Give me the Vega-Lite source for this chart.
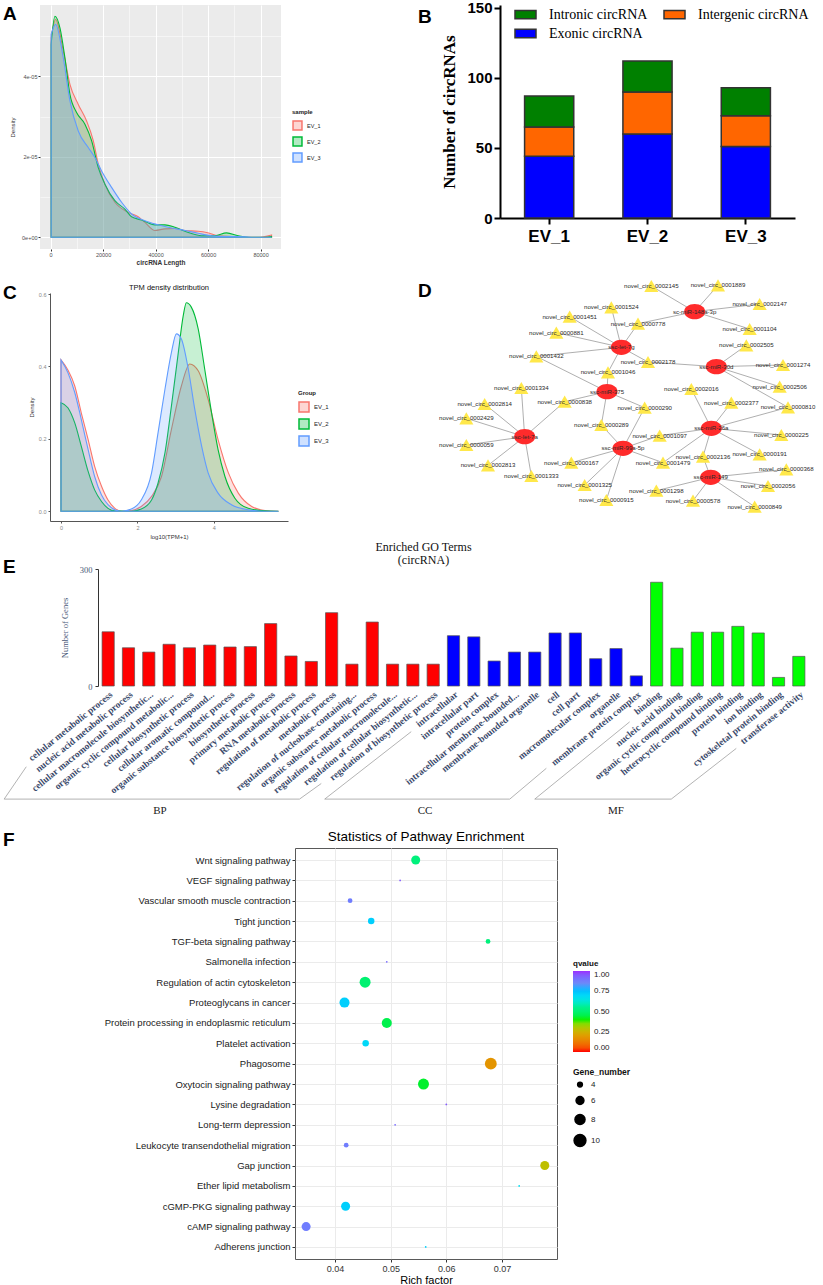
{
"$schema": "https://vega.github.io/schema/vega-lite/v6.json",
"background": "white",
"padding": {"left": 2, "top": 0, "right": 0, "bottom": 0},
"spacing": 13,
"resolve": {"scale": {"color": "independent", "fill": "independent", "stroke": "independent", "size": "independent"}, "legend": {"color": "independent", "fill": "independent", "stroke": "independent", "size": "independent"}},
"config": {
  "view": {"stroke": null},
  "font": "Liberation Sans",
  "axis": {"labelFont": "Liberation Sans", "titleFont": "Liberation Sans"},
  "legend": {"labelFont": "Liberation Sans", "titleFont": "Liberation Sans", "padding": 0},
  "title": {"font": "Liberation Sans", "color": "black"}
},
"datasets": {
  "densA": [
    {"sample":"EV_1","length":200,"density":4.95e-5},{"sample":"EV_1","length":1900,"density":5.41e-5},{"sample":"EV_1","length":4830,"density":4.63e-5},{"sample":"EV_1","length":7370,"density":3.80e-5},{"sample":"EV_1","length":10540,"density":3.30e-5},{"sample":"EV_1","length":13720,"density":2.89e-5},{"sample":"EV_1","length":16260,"density":2.40e-5},{"sample":"EV_1","length":18160,"density":1.82e-5},{"sample":"EV_1","length":20700,"density":1.32e-5},{"sample":"EV_1","length":24500,"density":0.87e-5},{"sample":"EV_1","length":29600,"density":0.62e-5},{"sample":"EV_1","length":33400,"density":0.51e-5},{"sample":"EV_1","length":35940,"density":0.37e-5},{"sample":"EV_1","length":39750,"density":0.17e-5},{"sample":"EV_1","length":43560,"density":0.21e-5},{"sample":"EV_1","length":47370,"density":0.22e-5},{"sample":"EV_1","length":51200,"density":0.17e-5},{"sample":"EV_1","length":56260,"density":0.15e-5},{"sample":"EV_1","length":59440,"density":0.12e-5},{"sample":"EV_1","length":63900,"density":0.04e-5},{"sample":"EV_1","length":69000,"density":0.02e-5},{"sample":"EV_1","length":74000,"density":0},{"sample":"EV_1","length":79000,"density":0},{"sample":"EV_1","length":84200,"density":0.06e-5},
    {"sample":"EV_2","length":200,"density":4.79e-5},{"sample":"EV_2","length":1650,"density":5.49e-5},{"sample":"EV_2","length":3560,"density":5.2e-5},{"sample":"EV_2","length":5460,"density":4.46e-5},{"sample":"EV_2","length":7370,"density":3.55e-5},{"sample":"EV_2","length":9900,"density":3.1e-5},{"sample":"EV_2","length":13080,"density":2.81e-5},{"sample":"EV_2","length":15620,"density":2.4e-5},{"sample":"EV_2","length":18160,"density":1.73e-5},{"sample":"EV_2","length":20700,"density":1.32e-5},{"sample":"EV_2","length":24500,"density":0.91e-5},{"sample":"EV_2","length":28300,"density":0.70e-5},{"sample":"EV_2","length":30860,"density":0.51e-5},{"sample":"EV_2","length":34670,"density":0.43e-5},{"sample":"EV_2","length":39750,"density":0.31e-5},{"sample":"EV_2","length":43560,"density":0.31e-5},{"sample":"EV_2","length":47370,"density":0.25e-5},{"sample":"EV_2","length":52450,"density":0.12e-5},{"sample":"EV_2","length":57530,"density":0.04e-5},{"sample":"EV_2","length":62610,"density":0.04e-5},{"sample":"EV_2","length":67060,"density":0.11e-5},{"sample":"EV_2","length":71500,"density":0.04e-5},{"sample":"EV_2","length":76580,"density":0},{"sample":"EV_2","length":81660,"density":0},{"sample":"EV_2","length":84200,"density":0.02e-5},
    {"sample":"EV_3","length":200,"density":5.04e-5},{"sample":"EV_3","length":1900,"density":5.29e-5},{"sample":"EV_3","length":4830,"density":4.46e-5},{"sample":"EV_3","length":7370,"density":3.39e-5},{"sample":"EV_3","length":10540,"density":2.64e-5},{"sample":"EV_3","length":14350,"density":2.23e-5},{"sample":"EV_3","length":16900,"density":1.98e-5},{"sample":"EV_3","length":19430,"density":1.65e-5},{"sample":"EV_3","length":23240,"density":1.24e-5},{"sample":"EV_3","length":27050,"density":0.87e-5},{"sample":"EV_3","length":30860,"density":0.58e-5},{"sample":"EV_3","length":35940,"density":0.41e-5},{"sample":"EV_3","length":41020,"density":0.31e-5},{"sample":"EV_3","length":46100,"density":0.23e-5},{"sample":"EV_3","length":51200,"density":0.17e-5},{"sample":"EV_3","length":56260,"density":0.10e-5},{"sample":"EV_3","length":61340,"density":0.04e-5},{"sample":"EV_3","length":66420,"density":0.02e-5},{"sample":"EV_3","length":71500,"density":0.02e-5},{"sample":"EV_3","length":76580,"density":0},{"sample":"EV_3","length":81660,"density":0},{"sample":"EV_3","length":84200,"density":0}
  ],
  "circ": [
    {"sample":"EV_1","type":"Exonic circRNA","count":44,"order":1},
    {"sample":"EV_1","type":"Intergenic circRNA","count":21,"order":2},
    {"sample":"EV_1","type":"Intronic circRNA","count":22,"order":3},
    {"sample":"EV_2","type":"Exonic circRNA","count":60,"order":1},
    {"sample":"EV_2","type":"Intergenic circRNA","count":30,"order":2},
    {"sample":"EV_2","type":"Intronic circRNA","count":22,"order":3},
    {"sample":"EV_3","type":"Exonic circRNA","count":51,"order":1},
    {"sample":"EV_3","type":"Intergenic circRNA","count":22,"order":2},
    {"sample":"EV_3","type":"Intronic circRNA","count":20,"order":3}
  ],
  "densC": [
    {"group":"EV_1","tpm":0,"density":0.418},{"group":"EV_1","tpm":0.18,"density":0.39},{"group":"EV_1","tpm":0.36,"density":0.346},{"group":"EV_1","tpm":0.53,"density":0.272},{"group":"EV_1","tpm":0.71,"density":0.198},{"group":"EV_1","tpm":0.88,"density":0.124},{"group":"EV_1","tpm":1.06,"density":0.069},{"group":"EV_1","tpm":1.23,"density":0.031},{"group":"EV_1","tpm":1.41,"density":0.008},{"group":"EV_1","tpm":1.58,"density":0},{"group":"EV_1","tpm":1.84,"density":0.002},{"group":"EV_1","tpm":2.1,"density":0.013},{"group":"EV_1","tpm":2.37,"density":0.041},{"group":"EV_1","tpm":2.63,"density":0.096},{"group":"EV_1","tpm":2.89,"density":0.226},{"group":"EV_1","tpm":3.15,"density":0.346},{"group":"EV_1","tpm":3.37,"density":0.407},{"group":"EV_1","tpm":3.59,"density":0.388},{"group":"EV_1","tpm":3.85,"density":0.309},{"group":"EV_1","tpm":4.11,"density":0.198},{"group":"EV_1","tpm":4.38,"density":0.106},{"group":"EV_1","tpm":4.64,"density":0.05},{"group":"EV_1","tpm":4.99,"density":0.013},{"group":"EV_1","tpm":5.34,"density":0.002},{"group":"EV_1","tpm":5.69,"density":0},
    {"group":"EV_2","tpm":0,"density":0.30},{"group":"EV_2","tpm":0.18,"density":0.286},{"group":"EV_2","tpm":0.36,"density":0.244},{"group":"EV_2","tpm":0.53,"density":0.18},{"group":"EV_2","tpm":0.71,"density":0.11},{"group":"EV_2","tpm":0.88,"density":0.059},{"group":"EV_2","tpm":1.06,"density":0.027},{"group":"EV_2","tpm":1.23,"density":0.008},{"group":"EV_2","tpm":1.41,"density":0.001},{"group":"EV_2","tpm":1.84,"density":0},{"group":"EV_2","tpm":2.1,"density":0.006},{"group":"EV_2","tpm":2.37,"density":0.031},{"group":"EV_2","tpm":2.54,"density":0.078},{"group":"EV_2","tpm":2.72,"density":0.161},{"group":"EV_2","tpm":2.89,"density":0.291},{"group":"EV_2","tpm":3.07,"density":0.439},{"group":"EV_2","tpm":3.2,"density":0.541},{"group":"EV_2","tpm":3.28,"density":0.576},{"group":"EV_2","tpm":3.41,"density":0.564},{"group":"EV_2","tpm":3.59,"density":0.504},{"group":"EV_2","tpm":3.76,"density":0.393},{"group":"EV_2","tpm":3.94,"density":0.272},{"group":"EV_2","tpm":4.11,"density":0.17},{"group":"EV_2","tpm":4.29,"density":0.096},{"group":"EV_2","tpm":4.55,"density":0.036},{"group":"EV_2","tpm":4.9,"density":0.008},{"group":"EV_2","tpm":5.34,"density":0.001},{"group":"EV_2","tpm":5.69,"density":0},
    {"group":"EV_3","tpm":0,"density":0.418},{"group":"EV_3","tpm":0.18,"density":0.383},{"group":"EV_3","tpm":0.36,"density":0.328},{"group":"EV_3","tpm":0.53,"density":0.254},{"group":"EV_3","tpm":0.71,"density":0.17},{"group":"EV_3","tpm":0.88,"density":0.096},{"group":"EV_3","tpm":1.06,"density":0.045},{"group":"EV_3","tpm":1.23,"density":0.018},{"group":"EV_3","tpm":1.41,"density":0.004},{"group":"EV_3","tpm":1.58,"density":0},{"group":"EV_3","tpm":1.84,"density":0.006},{"group":"EV_3","tpm":2.1,"density":0.031},{"group":"EV_3","tpm":2.37,"density":0.106},{"group":"EV_3","tpm":2.54,"density":0.217},{"group":"EV_3","tpm":2.72,"density":0.337},{"group":"EV_3","tpm":2.89,"density":0.439},{"group":"EV_3","tpm":3.02,"density":0.49},{"group":"EV_3","tpm":3.15,"density":0.476},{"group":"EV_3","tpm":3.33,"density":0.393},{"group":"EV_3","tpm":3.5,"density":0.282},{"group":"EV_3","tpm":3.68,"density":0.18},{"group":"EV_3","tpm":3.85,"density":0.106},{"group":"EV_3","tpm":4.11,"density":0.05},{"group":"EV_3","tpm":4.46,"density":0.018},{"group":"EV_3","tpm":4.9,"density":0.004},{"group":"EV_3","tpm":5.34,"density":0},{"group":"EV_3","tpm":5.69,"density":0}
  ],
  "nodes": [
    {"id":"sc-miR-148a-3p","kind":"miRNA","nx":86,"ny":12.5},
    {"id":"ssc-let-7g","kind":"miRNA","nx":64,"ny":23.2},
    {"id":"ssc-miR-30d","kind":"miRNA","nx":92.5,"ny":29},
    {"id":"ssc-miR-375","kind":"miRNA","nx":59.7,"ny":36.5},
    {"id":"ssc-let-7a","kind":"miRNA","nx":35,"ny":50},
    {"id":"ssc-miR-26a","kind":"miRNA","nx":91,"ny":47.5},
    {"id":"ssc-miR-99a-5p","kind":"miRNA","nx":64.5,"ny":53.5},
    {"id":"ssc-miR-149","kind":"miRNA","nx":90.8,"ny":62.2},
    {"id":"novel_circ_0002145","kind":"circ","nx":73,"ny":4.8},
    {"id":"novel_circ_0001889","kind":"circ","nx":93,"ny":4.6},
    {"id":"novel_circ_0002147","kind":"circ","nx":105.5,"ny":10.2},
    {"id":"novel_circ_0001104","kind":"circ","nx":102.5,"ny":17.7},
    {"id":"novel_circ_0001524","kind":"circ","nx":61,"ny":11.2},
    {"id":"novel_circ_0001451","kind":"circ","nx":48.5,"ny":14},
    {"id":"novel_circ_0000778","kind":"circ","nx":69,"ny":16.1},
    {"id":"novel_circ_0000881","kind":"circ","nx":44.5,"ny":18.8},
    {"id":"novel_circ_0001432","kind":"circ","nx":38.5,"ny":25.9},
    {"id":"novel_circ_0002505","kind":"circ","nx":101.5,"ny":22.6},
    {"id":"novel_circ_0002178","kind":"circ","nx":72,"ny":27.6},
    {"id":"novel_circ_0001046","kind":"circ","nx":60,"ny":30.7},
    {"id":"novel_circ_0001274","kind":"circ","nx":112.5,"ny":28.5},
    {"id":"novel_circ_0002506","kind":"circ","nx":111.5,"ny":35},
    {"id":"novel_circ_0001334","kind":"circ","nx":34,"ny":35.4},
    {"id":"novel_circ_0002016","kind":"circ","nx":85,"ny":35.7},
    {"id":"novel_circ_0000838","kind":"circ","nx":47,"ny":39.5},
    {"id":"novel_circ_0002814","kind":"circ","nx":23,"ny":40.2},
    {"id":"novel_circ_0002377","kind":"circ","nx":97,"ny":39.8},
    {"id":"novel_circ_0000810","kind":"circ","nx":114,"ny":41.2},
    {"id":"novel_circ_0000290","kind":"circ","nx":71,"ny":41.3},
    {"id":"novel_circ_0002429","kind":"circ","nx":17.5,"ny":44.5},
    {"id":"novel_circ_0000289","kind":"circ","nx":58,"ny":46.5},
    {"id":"novel_circ_0001097","kind":"circ","nx":75.5,"ny":49.7},
    {"id":"novel_circ_0000225","kind":"circ","nx":112,"ny":49.5},
    {"id":"novel_circ_0000059","kind":"circ","nx":17.5,"ny":52.5},
    {"id":"novel_circ_0002136","kind":"circ","nx":88.5,"ny":56},
    {"id":"novel_circ_0000191","kind":"circ","nx":105.5,"ny":55.3},
    {"id":"novel_circ_0001479","kind":"circ","nx":76.5,"ny":57.8},
    {"id":"novel_circ_0000167","kind":"circ","nx":49,"ny":57.8},
    {"id":"novel_circ_0002813","kind":"circ","nx":24,"ny":58.6},
    {"id":"novel_circ_0000368","kind":"circ","nx":113.5,"ny":59.8},
    {"id":"novel_circ_0001333","kind":"circ","nx":37,"ny":61.8},
    {"id":"novel_circ_0001325","kind":"circ","nx":53,"ny":64.5},
    {"id":"novel_circ_0002056","kind":"circ","nx":108,"ny":64.8},
    {"id":"novel_circ_0001298","kind":"circ","nx":74.5,"ny":66.2},
    {"id":"novel_circ_0000578","kind":"circ","nx":85.5,"ny":69.2},
    {"id":"novel_circ_0000915","kind":"circ","nx":59.5,"ny":69},
    {"id":"novel_circ_0000849","kind":"circ","nx":104,"ny":71}
  ],
  "edges": [
    {"source":"sc-miR-148a-3p","target":"novel_circ_0002145"},{"source":"sc-miR-148a-3p","target":"novel_circ_0001889"},{"source":"sc-miR-148a-3p","target":"novel_circ_0002147"},{"source":"sc-miR-148a-3p","target":"novel_circ_0001104"},{"source":"sc-miR-148a-3p","target":"novel_circ_0000778"},
    {"source":"ssc-let-7g","target":"novel_circ_0001524"},{"source":"ssc-let-7g","target":"novel_circ_0001451"},{"source":"ssc-let-7g","target":"novel_circ_0000778"},{"source":"ssc-let-7g","target":"novel_circ_0000881"},{"source":"ssc-let-7g","target":"novel_circ_0001432"},{"source":"ssc-let-7g","target":"novel_circ_0002178"},{"source":"ssc-let-7g","target":"novel_circ_0001046"},
    {"source":"ssc-miR-30d","target":"novel_circ_0002178"},{"source":"ssc-miR-30d","target":"novel_circ_0002505"},{"source":"ssc-miR-30d","target":"novel_circ_0001274"},{"source":"ssc-miR-30d","target":"novel_circ_0002506"},{"source":"ssc-miR-30d","target":"novel_circ_0000810"},
    {"source":"ssc-miR-375","target":"novel_circ_0001432"},{"source":"ssc-miR-375","target":"novel_circ_0001046"},{"source":"ssc-miR-375","target":"novel_circ_0000838"},{"source":"ssc-miR-375","target":"novel_circ_0000290"},{"source":"ssc-miR-375","target":"novel_circ_0000289"},
    {"source":"ssc-let-7a","target":"novel_circ_0001334"},{"source":"ssc-let-7a","target":"novel_circ_0002814"},{"source":"ssc-let-7a","target":"novel_circ_0002429"},{"source":"ssc-let-7a","target":"novel_circ_0000059"},{"source":"ssc-let-7a","target":"novel_circ_0002813"},{"source":"ssc-let-7a","target":"novel_circ_0001333"},{"source":"ssc-let-7a","target":"novel_circ_0000838"},
    {"source":"ssc-miR-26a","target":"novel_circ_0002016"},{"source":"ssc-miR-26a","target":"novel_circ_0002377"},{"source":"ssc-miR-26a","target":"novel_circ_0000810"},{"source":"ssc-miR-26a","target":"novel_circ_0000225"},{"source":"ssc-miR-26a","target":"novel_circ_0000191"},{"source":"ssc-miR-26a","target":"novel_circ_0002136"},{"source":"ssc-miR-26a","target":"novel_circ_0001479"},{"source":"ssc-miR-26a","target":"novel_circ_0001097"},
    {"source":"ssc-miR-99a-5p","target":"novel_circ_0000289"},{"source":"ssc-miR-99a-5p","target":"novel_circ_0000290"},{"source":"ssc-miR-99a-5p","target":"novel_circ_0001097"},{"source":"ssc-miR-99a-5p","target":"novel_circ_0001479"},{"source":"ssc-miR-99a-5p","target":"novel_circ_0000167"},{"source":"ssc-miR-99a-5p","target":"novel_circ_0001325"},{"source":"ssc-miR-99a-5p","target":"novel_circ_0000915"},
    {"source":"ssc-miR-149","target":"novel_circ_0002136"},{"source":"ssc-miR-149","target":"novel_circ_0000368"},{"source":"ssc-miR-149","target":"novel_circ_0002056"},{"source":"ssc-miR-149","target":"novel_circ_0000849"},{"source":"ssc-miR-149","target":"novel_circ_0000578"},{"source":"ssc-miR-149","target":"novel_circ_0001298"}
  ],
  "go": [
    {"idx":1,"category":"BP","term":"cellular metabolic process","count":139},
    {"idx":2,"category":"BP","term":"nucleic acid metabolic process","count":98},
    {"idx":3,"category":"BP","term":"cellular macromolecule biosynthetic...","count":87},
    {"idx":4,"category":"BP","term":"organic cyclic compound metabolic...","count":107},
    {"idx":5,"category":"BP","term":"cellular biosynthetic process","count":98},
    {"idx":6,"category":"BP","term":"cellular aromatic compound...","count":105},
    {"idx":7,"category":"BP","term":"organic substance biosynthetic process","count":100},
    {"idx":8,"category":"BP","term":"biosynthetic process","count":101},
    {"idx":9,"category":"BP","term":"primary metabolic process","count":160},
    {"idx":10,"category":"BP","term":"RNA metabolic process","count":77},
    {"idx":11,"category":"BP","term":"regulation of metabolic process","count":63},
    {"idx":12,"category":"BP","term":"metabolic process","count":188},
    {"idx":13,"category":"BP","term":"regulation of nucleobase-containing...","count":56},
    {"idx":14,"category":"BP","term":"organic substance metabolic process","count":164},
    {"idx":15,"category":"BP","term":"regulation of cellular macromolecule...","count":56},
    {"idx":16,"category":"BP","term":"regulation of cellular biosynthetic...","count":56},
    {"idx":17,"category":"BP","term":"regulation of biosynthetic process","count":56},
    {"idx":18,"category":"CC","term":"intracellular","count":129},
    {"idx":19,"category":"CC","term":"intracellular part","count":126},
    {"idx":20,"category":"CC","term":"protein complex","count":64},
    {"idx":21,"category":"CC","term":"intracellular membrane-bounded...","count":87},
    {"idx":22,"category":"CC","term":"membrane-bounded organelle","count":87},
    {"idx":23,"category":"CC","term":"cell","count":136},
    {"idx":24,"category":"CC","term":"cell part","count":136},
    {"idx":25,"category":"CC","term":"macromolecular complex","count":70},
    {"idx":26,"category":"CC","term":"organelle","count":96},
    {"idx":27,"category":"CC","term":"membrane protein complex","count":26},
    {"idx":28,"category":"MF","term":"binding","count":266},
    {"idx":29,"category":"MF","term":"nucleic acid binding","count":97},
    {"idx":30,"category":"MF","term":"organic cyclic compound binding","count":138},
    {"idx":31,"category":"MF","term":"heterocyclic compound binding","count":138},
    {"idx":32,"category":"MF","term":"protein binding","count":153},
    {"idx":33,"category":"MF","term":"ion binding","count":136},
    {"idx":34,"category":"MF","term":"cytoskeletal protein binding","count":22},
    {"idx":35,"category":"MF","term":"transferase activity","count":76}
  ],
  "brackets": [
    {"grp":"BP","seq":1,"bi":-3.53,"gv":-207},{"grp":"BP","seq":2,"bi":-4.62,"gv":-290},{"grp":"BP","seq":3,"bi":9.92,"gv":-290},{"grp":"BP","seq":4,"bi":10.99,"gv":-250},
    {"grp":"CC","seq":1,"bi":15.42,"gv":-117},{"grp":"CC","seq":2,"bi":11.16,"gv":-290},{"grp":"CC","seq":3,"bi":20.27,"gv":-290},{"grp":"CC","seq":4,"bi":22.07,"gv":-211},
    {"grp":"MF","seq":1,"bi":26.17,"gv":-92},{"grp":"MF","seq":2,"bi":21.5,"gv":-290},{"grp":"MF","seq":3,"bi":28.22,"gv":-290},{"grp":"MF","seq":4,"bi":31.42,"gv":-160}
  ],
  "glabels": [
    {"grp":"BP","bi":3.05,"gv":-321},{"grp":"CC","bi":16.1,"gv":-321},{"grp":"MF","bi":25.5,"gv":-321}
  ],
  "kegg": [
    {"pathway":"Wnt signaling pathway","rich":0.0545,"qvalue":0.52,"Gene_number":7},
    {"pathway":"VEGF signaling pathway","rich":0.0517,"qvalue":0.95,"Gene_number":3},
    {"pathway":"Vascular smooth muscle contraction","rich":0.0427,"qvalue":0.88,"Gene_number":4},
    {"pathway":"Tight junction","rich":0.0465,"qvalue":0.72,"Gene_number":5},
    {"pathway":"TGF-beta signaling pathway","rich":0.0675,"qvalue":0.52,"Gene_number":4},
    {"pathway":"Salmonella infection","rich":0.0493,"qvalue":0.92,"Gene_number":3},
    {"pathway":"Regulation of actin cytoskeleton","rich":0.0454,"qvalue":0.5,"Gene_number":9},
    {"pathway":"Proteoglycans in cancer","rich":0.0417,"qvalue":0.72,"Gene_number":8},
    {"pathway":"Protein processing in endoplasmic reticulum","rich":0.0493,"qvalue":0.45,"Gene_number":8},
    {"pathway":"Platelet activation","rich":0.0455,"qvalue":0.7,"Gene_number":5},
    {"pathway":"Phagosome","rich":0.068,"qvalue":0.18,"Gene_number":10},
    {"pathway":"Oxytocin signaling pathway","rich":0.0559,"qvalue":0.42,"Gene_number":9},
    {"pathway":"Lysine degradation","rich":0.06,"qvalue":0.95,"Gene_number":3},
    {"pathway":"Long-term depression","rich":0.0508,"qvalue":0.92,"Gene_number":3},
    {"pathway":"Leukocyte transendothelial migration","rich":0.042,"qvalue":0.88,"Gene_number":4},
    {"pathway":"Gap junction","rich":0.0777,"qvalue":0.28,"Gene_number":7},
    {"pathway":"Ether lipid metabolism","rich":0.0731,"qvalue":0.68,"Gene_number":3},
    {"pathway":"cGMP-PKG signaling pathway","rich":0.0419,"qvalue":0.72,"Gene_number":7},
    {"pathway":"cAMP signaling pathway","rich":0.0348,"qvalue":0.88,"Gene_number":7},
    {"pathway":"Adherens junction","rich":0.0563,"qvalue":0.72,"Gene_number":3}
  ]
},
"vconcat": [
  {"hconcat": [
    {
      "width": 241, "height": 244,
      "view": {"fill": "#EBEBEB", "stroke": null},
      "title": {"text": "A", "anchor": "start", "frame": "group", "dx": -37, "offset": -34, "baseline": "alphabetic", "fontSize": 19, "fontWeight": "bold"},
      "data": {"name": "densA"},
      "mark": {"type": "area", "interpolate": "monotone", "fillOpacity": 0.22, "strokeWidth": 1.1},
      "encoding": {
        "x": {"field": "length", "type": "quantitative", "scale": {"domain": [-4040, 87800], "nice": false, "zero": false},
              "axis": {"title": "circRNA Length", "values": [0,10000,20000,30000,40000,50000,60000,70000,80000],
                       "labelExpr": "datum.value % 20000 == 0 ? format(datum.value, 'd') : ''",
                       "labelFontSize": 5.5, "labelColor": "#4D4D4D", "labelPadding": 1,
                       "tickSize": 2, "tickColor": "#333", "tickOpacity": {"condition": {"test": "datum.value % 20000 == 0", "value": 1}, "value": 0},
                       "domain": false, "grid": true, "gridColor": "white",
                       "gridWidth": {"condition": {"test": "datum.value % 20000 == 0", "value": 1}, "value": 0.5},
                       "titleFontSize": 6.5, "titleFontWeight": "bold", "titleColor": "#333", "titlePadding": 2}},
        "y": {"field": "density", "type": "quantitative", "stack": null, "scale": {"domain": [-0.0000029, 0.0000577], "nice": false, "zero": false},
              "axis": {"title": "Density", "values": [0, 0.00001, 0.00002, 0.00003, 0.00004, 0.00005],
                       "labelExpr": "round(datum.value*100000) % 2 == 0 ? (datum.value == 0 ? '0e+00' : round(datum.value*100000) + 'e-05') : ''",
                       "labelFontSize": 5.5, "labelColor": "#4D4D4D", "labelPadding": 1,
                       "tickSize": 2, "tickColor": "#333", "tickOpacity": {"condition": {"test": "round(datum.value*100000) % 2 == 0", "value": 1}, "value": 0},
                       "domain": false, "grid": true, "gridColor": "white",
                       "gridWidth": {"condition": {"test": "round(datum.value*100000) % 2 == 0", "value": 1}, "value": 0.5},
                       "titleFontSize": 6, "titleFontWeight": "normal", "titleColor": "#333", "titlePadding": 6}},
        "y2": {"datum": 0},
        "fill": {"field": "sample", "type": "nominal", "scale": {"range": ["#F8766D", "#00BA38", "#619CFF"]},
                 "legend": {"title": "sample", "orient": "none", "legendX": 252, "legendY": 104, "titleFontSize": 6, "titleFontWeight": "bold", "titleColor": "#222", "labelFontSize": 5.5, "labelColor": "#222", "symbolType": "square", "symbolSize": 80, "rowPadding": 1, "encode": {"symbols": {"update": {"fillOpacity": {"value": 0.3}}}}}},
        "stroke": {"field": "sample", "type": "nominal", "scale": {"range": ["#F8766D", "#00BA38", "#619CFF"]},
                 "legend": {"title": "sample", "orient": "none", "legendX": 252, "legendY": 104, "titleFontSize": 6, "titleFontWeight": "bold", "titleColor": "#222", "labelFontSize": 5.5, "labelColor": "#222", "symbolType": "square", "symbolSize": 80, "rowPadding": 1, "encode": {"symbols": {"update": {"fillOpacity": {"value": 0.3}}}}}}
      }
    },
    {
      "width": 295, "height": 213,
      "title": {"text": "B", "anchor": "start", "frame": "group", "dx": -82, "offset": -41, "baseline": "alphabetic", "fontSize": 19, "fontWeight": "bold"},
      "data": {"name": "circ"},
      "mark": {"type": "bar", "stroke": "#333", "strokeWidth": 1.5},
      "encoding": {
        "x": {"field": "sample", "type": "nominal", "scale": {"paddingInner": 0.5, "paddingOuter": 0.25},
              "axis": {"title": null, "labelAngle": 0, "labelFontSize": 17, "labelFontWeight": "bold", "labelColor": "black", "labelPadding": 4,
                       "domainColor": "black", "domainWidth": 2, "tickColor": "black", "tickWidth": 2, "tickSize": 6}},
        "y": {"field": "count", "type": "quantitative", "stack": "zero", "scale": {"domain": [0, 152], "nice": false},
              "axis": {"title": "Number of circRNAs", "titleFont": "Liberation Serif", "titleFontSize": 17, "titleFontWeight": "bold", "titleColor": "black", "titlePadding": 8,
                       "values": [0, 50, 100, 150], "labelFontSize": 15, "labelFontWeight": "bold", "labelColor": "black", "labelPadding": 2,
                       "grid": false, "domainColor": "black", "domainWidth": 2, "tickColor": "black", "tickWidth": 2, "tickSize": 6}},
        "color": {"field": "type", "type": "nominal",
                  "scale": {"domain": ["Intronic circRNA", "Exonic circRNA", "Intergenic circRNA"], "range": ["#008000", "#0000FF", "#FF6600"]},
                  "legend": {"title": null, "orient": "none", "legendX": 14, "legendY": -2, "columns": 2, "columnPadding": 13, "rowPadding": 0,
                             "symbolType": "M-1,-0.4H1V0.4H-1Z", "symbolSize": 441, "symbolStrokeColor": "#333", "symbolStrokeWidth": 1.5, "symbolOpacity": 1,
                             "labelFont": "Liberation Serif", "labelFontSize": 14, "labelColor": "black", "labelOffset": 12, "labelLimit": 250}},
        "order": {"field": "order", "type": "quantitative"}
      }
    }
  ], "spacing": 219, "bounds": "flush",
  "resolve": {"scale": {"color": "independent", "fill": "independent", "stroke": "independent", "size": "independent"}, "legend": {"color": "independent", "fill": "independent", "stroke": "independent", "size": "independent"}}},
  {"vconcat": [
    {"hconcat": [
      {
        "width": 1, "height": 1,
        "title": {"text": "C", "anchor": "start", "frame": "group", "dx": -37, "offset": -25, "baseline": "alphabetic", "fontSize": 19, "fontWeight": "bold"},
        "data": {"values": []},
        "mark": "point"
      },
      {
        "width": 238, "height": 228,
        "title": {"text": "TPM density distribution", "anchor": "middle", "frame": "group", "fontSize": 7.5, "fontWeight": "normal", "offset": 1, "color": "#111"},
        "data": {"name": "densC"},
        "mark": {"type": "area", "interpolate": "monotone", "fillOpacity": 0.22, "strokeWidth": 1.1},
        "encoding": {
          "x": {"field": "tpm", "type": "quantitative", "scale": {"domain": [-0.288, 5.94], "nice": false, "zero": false},
                "axis": {"title": "log10(TPM+1)", "values": [0, 2, 4], "format": "d", "labelFontSize": 5.5, "labelColor": "#888", "labelPadding": 2,
                         "domainColor": "#555", "domainWidth": 1, "tickColor": "#555", "tickSize": 2, "grid": false,
                         "titleFontSize": 6, "titleFontWeight": "normal", "titleColor": "#333", "titlePadding": 3}},
          "y": {"field": "density", "type": "quantitative", "stack": null, "scale": {"domain": [-0.027, 0.603], "nice": false, "zero": false},
                "axis": {"title": "Density", "values": [0, 0.2, 0.4, 0.6], "format": ".1f", "labelFontSize": 5.5, "labelColor": "#888", "labelPadding": 2,
                         "domainColor": "#555", "domainWidth": 1, "tickColor": "#555", "tickSize": 2, "grid": false,
                         "titleFontSize": 6, "titleFontWeight": "normal", "titleColor": "#333", "titlePadding": 4}},
          "y2": {"datum": 0},
          "fill": {"field": "group", "type": "nominal", "scale": {"range": ["#F8766D", "#00BA38", "#619CFF"]},
                   "legend": {"title": "Group", "orient": "none", "legendX": 248, "legendY": 97, "titleFontSize": 6, "titleFontWeight": "bold", "titleColor": "#222", "labelFontSize": 6, "labelColor": "#222", "symbolType": "square", "symbolSize": 100, "rowPadding": 1, "encode": {"symbols": {"update": {"fillOpacity": {"value": 0.3}}}}}},
          "stroke": {"field": "group", "type": "nominal", "scale": {"range": ["#F8766D", "#00BA38", "#619CFF"]},
                   "legend": {"title": "Group", "orient": "none", "legendX": 248, "legendY": 97, "titleFontSize": 6, "titleFontWeight": "bold", "titleColor": "#222", "labelFontSize": 6, "labelColor": "#222", "symbolType": "square", "symbolSize": 100, "rowPadding": 1, "encode": {"symbols": {"update": {"fillOpacity": {"value": 0.3}}}}}}
        }
      },
      {
        "width": 524, "height": 232,
        "title": {"text": "D", "anchor": "start", "frame": "group", "dx": 121, "offset": -37, "baseline": "alphabetic", "fontSize": 19, "fontWeight": "bold"},
        "layer": [
          {
            "data": {"name": "edges"},
            "transform": [
              {"lookup": "source", "from": {"data": {"name": "nodes"}, "key": "id", "fields": ["nx", "ny"]}, "as": ["sx", "sy"]},
              {"lookup": "target", "from": {"data": {"name": "nodes"}, "key": "id", "fields": ["nx", "ny"]}, "as": ["tx", "ty"]}
            ],
            "mark": {"type": "rule", "color": "#9A9A9A", "strokeWidth": 0.8},
            "encoding": {
              "x": {"field": "sx", "type": "quantitative", "scale": {"domain": [-33.3, 123.9], "nice": false, "zero": false}, "axis": null},
              "y": {"field": "sy", "type": "quantitative", "scale": {"domain": [6.9, 76.5], "nice": false, "zero": false, "reverse": true}, "axis": null},
              "x2": {"field": "tx"},
              "y2": {"field": "ty"}
            }
          },
          {
            "data": {"name": "nodes"},
            "transform": [{"filter": "datum.kind == 'circ'"}],
            "mark": {"type": "point", "shape": "triangle-up", "filled": true, "size": 200, "color": "#FFE84A", "opacity": 1, "strokeWidth": 0},
            "encoding": {
              "x": {"field": "nx", "type": "quantitative", "scale": {"domain": [-33.3, 123.9], "nice": false, "zero": false}, "axis": null},
              "y": {"field": "ny", "type": "quantitative", "scale": {"domain": [6.9, 76.5], "nice": false, "zero": false, "reverse": true}, "axis": null}
            }
          },
          {
            "data": {"name": "nodes"},
            "transform": [{"filter": "datum.kind == 'miRNA'"}],
            "mark": {"type": "point", "shape": "M-1,0A1,0.72,0,1,1,1,0A1,0.72,0,1,1,-1,0Z", "filled": true, "size": 441, "color": "#FF2B2B", "opacity": 1, "strokeWidth": 0},
            "encoding": {
              "x": {"field": "nx", "type": "quantitative", "scale": {"domain": [-33.3, 123.9], "nice": false, "zero": false}, "axis": null},
              "y": {"field": "ny", "type": "quantitative", "scale": {"domain": [6.9, 76.5], "nice": false, "zero": false, "reverse": true}, "axis": null}
            }
          },
          {
            "data": {"name": "nodes"},
            "mark": {"type": "text", "fontSize": 6.1, "font": "Liberation Sans", "color": "#2A2A2A"},
            "encoding": {
              "x": {"field": "nx", "type": "quantitative", "scale": {"domain": [-33.3, 123.9], "nice": false, "zero": false}, "axis": null},
              "y": {"field": "ny", "type": "quantitative", "scale": {"domain": [6.9, 76.5], "nice": false, "zero": false, "reverse": true}, "axis": null},
              "text": {"field": "id"}
            }
          }
        ]
      }
    ], "spacing": 9, "bounds": "flush",
    "resolve": {"scale": {"color": "independent", "fill": "independent", "stroke": "independent", "size": "independent"}, "legend": {"color": "independent", "fill": "independent", "stroke": "independent", "size": "independent"}}},
    {"vconcat": [
      {"hconcat": [
        {
          "width": 58, "height": 1,
          "title": {"text": "E", "anchor": "start", "frame": "group", "dx": -37, "offset": -23, "baseline": "alphabetic", "fontSize": 19, "fontWeight": "bold"},
          "data": {"values": []},
          "mark": "point"
        },
        {
          "width": 711, "height": 117,
          "title": {"text": ["Enriched GO Terms", "(circRNA)"], "anchor": "middle", "frame": "group", "dx": -30, "offset": -2, "font": "Liberation Serif", "fontSize": 12, "fontWeight": "normal", "lineHeight": 13, "color": "#111"},
          "resolve": {"scale": {"x": "independent"}},
          "layer": [
            {
              "data": {"name": "go"},
              "mark": {"type": "bar", "stroke": "#555", "strokeWidth": 0.7},
              "encoding": {
                "x": {"field": "term", "type": "nominal", "sort": {"field": "idx", "op": "min"}, "scale": {"paddingInner": 0.4, "paddingOuter": 0.2},
                      "axis": {"title": null, "labelAngle": -39, "labelFont": "Liberation Serif", "labelFontSize": 9.5, "labelFontWeight": "bold", "labelColor": "#3B4A6B",
                               "domain": false, "ticks": false, "labelPadding": 3, "labelLimit": 300}},
                "y": {"field": "count", "type": "quantitative", "title": "Number of Genes", "scale": {"domain": [0, 300], "nice": false},
                      "axis": {"values": [0, 50, 100, 150, 200, 250, 300], "labelFont": "Liberation Serif", "labelFontSize": 8.5, "labelColor": "#4A5A78",
                               "titleFont": "Liberation Serif", "titleFontSize": 8.5, "titleFontWeight": "normal", "titleColor": "#4A5A78", "titlePadding": 10,
                               "grid": false, "domainColor": "#333", "tickColor": "#333", "tickSize": 3, "labelPadding": 3}},
                "color": {"field": "category", "type": "nominal", "scale": {"domain": ["BP", "CC", "MF"], "range": ["#FF0000", "#0000FF", "#00FF00"]}, "legend": null}
              }
            },
            {
              "data": {"name": "brackets"},
              "mark": {"type": "line", "color": "#A0A0A0", "strokeWidth": 0.8},
              "encoding": {
                "x": {"field": "bi", "type": "quantitative", "scale": {"domain": [0, 35], "nice": false, "zero": false}, "axis": null},
                "y": {"field": "gv", "type": "quantitative", "title": "Number of Genes", "scale": {"domain": [0, 300], "nice": false}},
                "detail": {"field": "grp", "type": "nominal"},
                "order": {"field": "seq", "type": "quantitative"}
              }
            },
            {
              "data": {"name": "glabels"},
              "mark": {"type": "text", "font": "Liberation Serif", "fontSize": 11, "color": "#222"},
              "encoding": {
                "x": {"field": "bi", "type": "quantitative", "scale": {"domain": [0, 35], "nice": false, "zero": false}, "axis": null},
                "y": {"field": "gv", "type": "quantitative", "title": "Number of Genes", "scale": {"domain": [0, 300], "nice": false}},
                "text": {"field": "grp"}
              }
            }
          ]
        }
      ], "spacing": 0, "bounds": "flush",
      "resolve": {"scale": {"color": "independent", "fill": "independent", "stroke": "independent", "size": "independent"}, "legend": {"color": "independent", "fill": "independent", "stroke": "independent", "size": "independent"}}},
      {"hconcat": [
        {
          "width": 255, "height": 1,
          "title": {"text": "F", "anchor": "start", "frame": "group", "dx": -37, "offset": -17, "baseline": "alphabetic", "fontSize": 19, "fontWeight": "bold"},
          "data": {"values": []},
          "mark": "point"
        },
        {
          "width": 262, "height": 411,
          "view": {"stroke": "#595959", "strokeWidth": 1},
          "title": {"text": "Statistics of Pathway Enrichment", "anchor": "middle", "frame": "group", "fontSize": 13.5, "fontWeight": "normal", "offset": 5, "color": "black"},
          "data": {"name": "kegg"},
          "mark": {"type": "circle", "opacity": 1},
          "encoding": {
            "x": {"field": "rich", "type": "quantitative", "scale": {"domain": [0.0328, 0.0799], "nice": false, "zero": false},
                  "axis": {"title": "Rich factor", "values": [0.04, 0.05, 0.06, 0.07], "format": ".2f", "grid": true, "gridColor": "#EBEBEB", "domain": false,
                           "tickColor": "#333", "tickSize": 3, "labelFontSize": 9, "labelColor": "#333", "labelPadding": 2,
                           "titleFontSize": 11, "titleFontWeight": "normal", "titleColor": "black", "titlePadding": 1}},
            "y": {"field": "pathway", "type": "nominal", "sort": null, "scale": {"type": "point", "padding": 0.59},
                  "axis": {"title": null, "grid": true, "gridColor": "#EBEBEB", "domain": false, "tickColor": "#333", "tickSize": 3,
                           "labelFontSize": 9.5, "labelColor": "#1A1A1A", "labelPadding": 2, "labelLimit": 300}},
            "color": {"field": "qvalue", "type": "quantitative",
                      "scale": {"domain": [0, 0.2, 0.4, 0.55, 0.7, 0.85, 1], "range": ["#FF0000", "#E09C00", "#10F000", "#00F08C", "#00D8F8", "#6E88F8", "#9B30FF"]},
                      "legend": {"title": "qvalue", "orient": "none", "legendX": 278, "legendY": 112, "type": "gradient", "direction": "vertical",
                                 "gradientLength": 81, "gradientThickness": 17, "values": [0, 0.25, 0.5, 0.75, 1], "format": ".2f", "titleAnchor": "start",
                                 "titleFontSize": 8, "titleFontWeight": "bold", "titleColor": "#111", "titlePadding": 3, "labelFontSize": 8, "labelColor": "#222", "labelOffset": 4}},
            "size": {"field": "Gene_number", "type": "quantitative", "scale": {"domain": [3, 10], "range": [3, 140]},
                     "legend": {"title": "Gene_number", "orient": "none", "legendX": 278, "legendY": 220, "values": [4, 6, 8, 10], "titleAnchor": "start",
                                "titleFontSize": 8.5, "titleFontWeight": "bold", "titleColor": "#111", "titlePadding": 4, "labelFontSize": 8, "labelColor": "#222", "rowPadding": 3,
                                "symbolType": "circle", "symbolFillColor": "black", "symbolStrokeColor": "black",
                                "encode": {"symbols": {"update": {"fill": {"value": "black"}, "stroke": {"value": "black"}, "fillOpacity": {"value": 1}}}}}}
          }
        }
      ], "spacing": 0, "bounds": "flush",
      "resolve": {"scale": {"color": "independent", "fill": "independent", "stroke": "independent", "size": "independent"}, "legend": {"color": "independent", "fill": "independent", "stroke": "independent", "size": "independent"}}}
    ], "spacing": 12,
    "resolve": {"scale": {"color": "independent", "fill": "independent", "stroke": "independent", "size": "independent"}, "legend": {"color": "independent", "fill": "independent", "stroke": "independent", "size": "independent"}}}
  ], "spacing": 1,
  "resolve": {"scale": {"color": "independent", "fill": "independent", "stroke": "independent", "size": "independent"}, "legend": {"color": "independent", "fill": "independent", "stroke": "independent", "size": "independent"}}}
]
}
